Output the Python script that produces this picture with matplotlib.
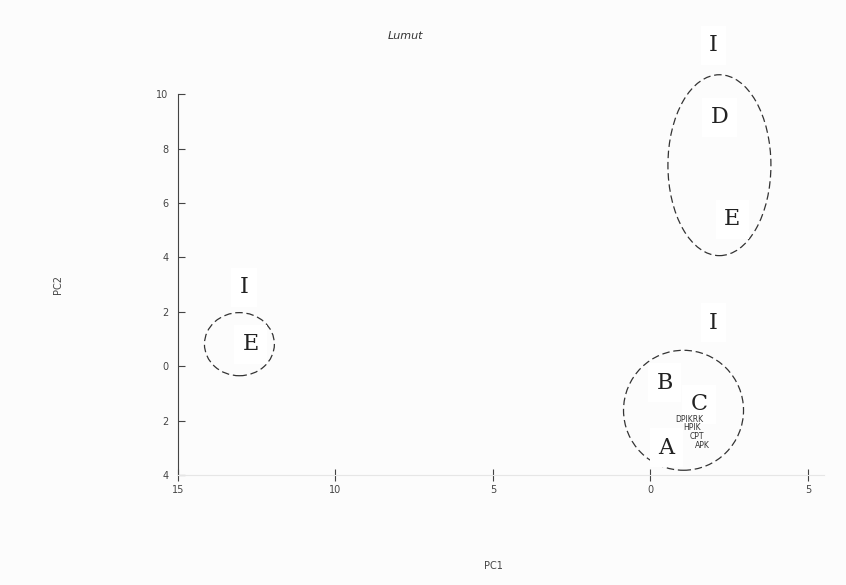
import matplotlib.pyplot as plt
from matplotlib.patches import Ellipse

# Group labels (large letters) and their PC scores
big_labels = ["I", "D", "E", "I", "E", "I", "B", "C", "A"]
big_pc1 = [2.0, 2.2, 2.6, -12.9, -12.7, 2.0, 0.45, 1.55, 0.5]
big_pc2 = [11.8, 9.15, 5.4, 2.9, 0.8, 1.6, -0.6, -1.4, -3.0]

# Small sample labels packed together near the C/A group
small_labels = ["DPIKRK", "HPIK", "CPT", "APK"]
small_pc1 = [1.24, 1.33, 1.46, 1.65]
small_pc2 = [-1.95, -2.27, -2.59, -2.91]

# Cluster ellipses: centre x, centre y, width, height
ell_x = [2.19, -13.05, 1.05]
ell_y = [7.39, 0.81, -1.62]
ell_w = [3.27, 2.22, 3.81]
ell_h = [6.65, 2.32, 4.41]

xticks = [-15, -10, -5, 0, 5]
xticklabels = ["15", "10", "5", "0", "5"]
yticks = [10, 8, 6, 4, 2, 0, -2, -4]
yticklabels = ["10", "8", "6", "4", "2", "0", "2", "4"]

fig = plt.figure(figsize=(8.46, 5.85), dpi=100, facecolor="#fcfcfc")
ax = fig.add_axes([0.2104, 0.188, 0.955 - 0.2104, 0.839 - 0.188])
ax.set_facecolor("#fcfcfc")

for x, y, w, h in zip(ell_x, ell_y, ell_w, ell_h):
    ax.add_patch(Ellipse((x, y), w, h, fill=False, edgecolor="#333333",
                         linestyle=(0, (6, 3)), linewidth=0.9, clip_on=False))

for lab, x, y in zip(big_labels, big_pc1, big_pc2):
    ax.text(x, y, lab, family="DejaVu Serif", fontsize=16, ha="center",
            va="center", color="#222222", clip_on=False,
            bbox=dict(facecolor="white", edgecolor="none", pad=6))

for lab, x, y in zip(small_labels, small_pc1, small_pc2):
    ax.text(x, y, lab, fontsize=5.5, ha="center", va="center", color="#333333")

ax.set_xlim(-15, 5)
ax.set_ylim(-4, 10)
ax.set_xticks(xticks)
ax.set_xticklabels(xticklabels)
ax.set_yticks(yticks)
ax.set_yticklabels(yticklabels)

for side in ["top", "right"]:
    ax.spines[side].set_visible(False)
ax.spines["left"].set_color("#444444")
ax.spines["bottom"].set_color("#e6e6e6")
ax.spines["bottom"].set_bounds(-15, 5.5)

ax.tick_params(axis="y", direction="in", length=5, color="#444444",
               labelsize=7, labelcolor="#444444", pad=7)
ax.tick_params(axis="x", direction="inout", length=8, color="#444444",
               labelsize=7, labelcolor="#444444", pad=3)

ax.set_xlabel("PC1", fontsize=7, color="#444444", labelpad=48)
ax.set_ylabel("PC2", fontsize=7, color="#444444", labelpad=67)
ax.set_title("Lumut", fontsize=8, style="italic", color="#333333", pad=40,
             x=(405 - 178) / (808 - 178))

fig.savefig("out.png", dpi=100, facecolor=fig.get_facecolor())
